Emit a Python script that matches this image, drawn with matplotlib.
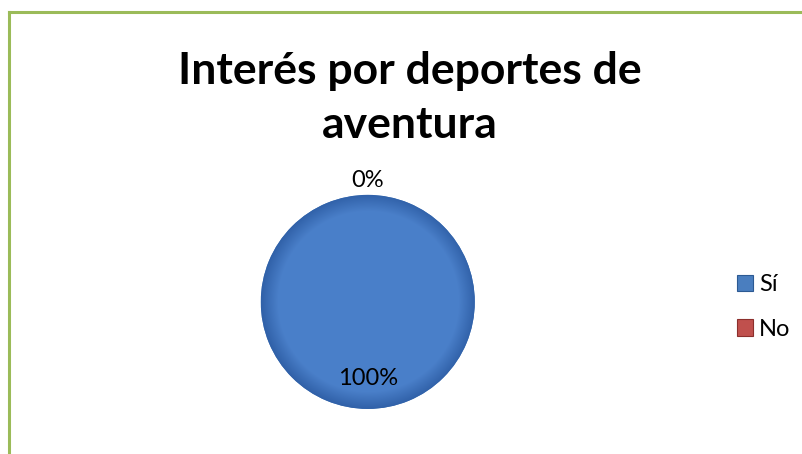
import matplotlib.pyplot as plt
import numpy as np
from matplotlib.lines import Line2D

# datos del grafico
categorias = ['Sí', 'No']
valores = [100, 0]
colores = ['#4a7ebf', '#c0504d']
bordes = ['#2c5a93', '#8c2f2c']

plt.rcParams['font.family'] = ['Lato', 'DejaVu Sans']

fig = plt.figure(figsize=(8.03, 4.54), dpi=100)
ax = fig.add_axes([0.318, 0.0875, 0.280, 0.495])

wedges, textos, pcts = ax.pie(valores, colors=colores, startangle=90,
                              counterclock=False, autopct='%1.0f%%',
                              pctdistance=0.72,
                              wedgeprops=dict(edgecolor='none'),
                              textprops=dict(fontsize=17, color='black'))
ax.set_aspect('equal')

# etiqueta del 0% fuera del circulo, como en el original
tot = sum(valores)
ang = 90
for v, t in zip(valores, pcts):
    medio = ang - 360 * v / tot / 2
    if v == 0:
        r = 1.04
        t.set_position((r * np.cos(np.radians(medio)), r * np.sin(np.radians(medio))))
        t.set_va('bottom')
    ang -= 360 * v / tot

# sombreado radial del pastel
n = 400
xx, yy = np.meshgrid(np.linspace(-1, 1, n), np.linspace(-1, 1, n))
rr = np.sqrt(xx**2 + yy**2)
claro = np.array([0.29, 0.50, 0.79])
oscuro = np.array([0.19, 0.38, 0.66])
f = np.clip((rr - 0.84) / 0.16, 0, 1)[..., None]
img = claro * (1 - f) + oscuro * f
im = ax.imshow(img, extent=(-1, 1, -1, 1), origin='lower', zorder=1.5)
im.set_clip_path(wedges[0])
ax.set_xlim(-1.05, 1.05)
ax.set_ylim(-1.05, 1.05)
for t in pcts:
    t.set_zorder(3)

fig.text(0.51, 0.784, 'Interés por deportes de\naventura', ha='center', va='center',
         fontsize=32, fontweight='bold', linespacing=1.45)

ley = fig.legend(wedges, categorias, loc='center left', bbox_to_anchor=(0.903, 0.324),
                 frameon=False, fontsize=17, handlelength=0.7, handleheight=0.7,
                 handletextpad=0.25, labelspacing=1.0, borderpad=0)
for h, b in zip(ley.legend_handles, bordes):
    h.set_edgecolor(b)
    h.set_linewidth(0.8)

# borde verde del grafico
fig.add_artist(Line2D([0.011, 0.011], [0.0, 0.974], color='#9bbb59', lw=2.2))
fig.add_artist(Line2D([0.011, 1.0], [0.974, 0.974], color='#9bbb59', lw=2.2))

plt.savefig('out.png', dpi=100)
